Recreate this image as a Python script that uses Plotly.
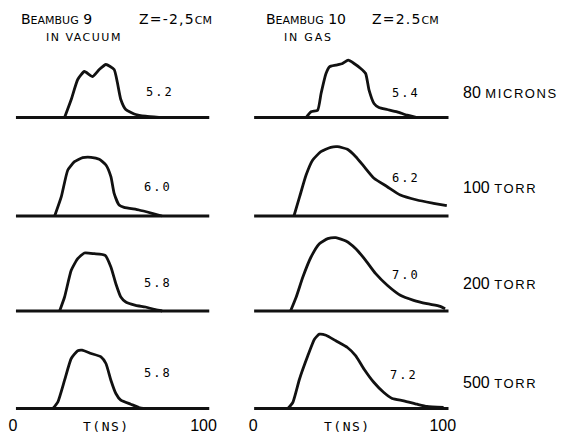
import plotly.graph_objects as go

# ---------------- data (time in ns, signal in arbitrary units) ----------------
tick_vals = [0, 100]
tick_text = ["0", "100"]

# Left column: Beambug 9, Z=-2.5 cm, in vacuum
vac_80um_t = [27.1, 30.6, 34.0, 37.5, 41.8, 45.3, 48.8, 53.1, 54.8, 56.6, 59.2, 64.4, 69.6, 76.6]
vac_80um_v = [0, 18, 38, 46, 41, 48, 53, 48, 35, 18, 8, 3, 1.3, 0]

vac_100t_t = [21.9, 25.4, 28.8, 32.3, 36.6, 41.0, 45.3, 48.8, 51.4, 53.1, 55.7, 58.3, 66.1, 73.0, 78.2]
vac_100t_v = [0, 19.3, 46, 54.3, 58.3, 58.7, 56.7, 51, 39.3, 22.7, 11, 8.7, 6, 2.7, 0]

vac_200t_t = [24.5, 27.1, 30.6, 34.0, 37.5, 42.7, 48.4, 51.4, 54.0, 56.6, 59.2, 64.4, 69.6, 74.8, 78.3]
vac_200t_v = [0, 14, 40.7, 52.3, 58, 57.3, 55.7, 44, 27.3, 14, 9, 5.7, 4, 1.3, 0]

vac_500t_t = [21.0, 23.6, 27.1, 30.6, 34.0, 36.3, 41.0, 46.2, 48.8, 51.4, 54.0, 56.6, 61.8, 66.1, 69.6]
vac_500t_v = [0, 6.7, 28.3, 50, 57.7, 58.3, 55, 51.7, 45, 28.3, 15, 8.3, 4.3, 1, 0]

# Right column: Beambug 10, Z=2.5 cm, in gas
gas_80um_t = [27.9, 30.5, 34.0, 35.8, 38.4, 40.2, 43.6, 47.1, 50.1, 53.2, 56.7, 59.3, 61.1, 63.7,
              66.3, 70.7, 75.9, 81.2, 86.4]
gas_80um_v = [0, 5.7, 7.3, 24, 44, 50.7, 52.3, 54, 57.3, 54, 49, 44, 27.3, 14,
              10, 8, 5.7, 2.3, 0]

gas_100t_t = [21.5, 24.5, 27.9, 31.4, 35.7, 40.9, 44.5, 49.7, 54.1, 58.5, 63.7, 70.7, 77.6, 86.4, 95.1, 102.1]
gas_100t_v = [0, 19.3, 41, 56, 64.3, 68.7, 69.3, 66.7, 59.3, 49.3, 37.7, 29.3, 21, 16, 12.7, 10.3]

gas_200t_t = [19.7, 22.7, 26.2, 30.5, 34.9, 39.3, 43.6, 48.9, 54.1, 59.3, 64.6, 70.7, 77.6, 84.6,
              91.6, 98.6, 101.2]
gas_200t_v = [0, 14, 34, 54, 67.3, 72.3, 73.3, 70, 62.3, 50.7, 37.3, 25.7, 15.7, 10.7,
              7.3, 4.7, 2.3]

gas_500t_t = [18.3, 20.9, 24.4, 28.8, 32.3, 34.9, 38.4, 43.6, 49.7, 54.1, 58.5, 63.7, 68.9, 73.3,
              79.4, 86.4, 91.6, 100.4]
gas_500t_v = [0, 6, 29.3, 52.7, 69.3, 74.3, 73.3, 67.7, 61, 52.7, 39.3, 26, 16, 10,
              7.7, 4.3, 2, 1]

baseline_left = [1.6, 103]
baseline_right = [0.5, 103]
baseline_level = [0, 0]

width_values = ["5.2", "6.0", "5.8", "5.8"]      # vacuum
width_values_gas = ["5.4", "6.2", "7.0", "7.2"]  # gas
row_numbers = ["80", "100", "200", "500"]
row_units = ["MICRONS", "TORR", "TORR", "TORR"]

left_series = [(vac_80um_t, vac_80um_v), (vac_100t_t, vac_100t_v),
               (vac_200t_t, vac_200t_v), (vac_500t_t, vac_500t_v)]
right_series = [(gas_80um_t, gas_80um_v), (gas_100t_t, gas_100t_v),
                (gas_200t_t, gas_200t_v), (gas_500t_t, gas_500t_v)]

# ---------------- layout geometry (pixels) ----------------
W, H = 561, 437
row_base_px = [117.5, 216, 311, 408.5]
left_x_px = (3.4, 214.6)
right_x_px = (245.45, 455.55)
X_RANGE = [-5, 105]
Y_RANGE = [-5, 80]

fig = go.Figure()
LINE = dict(color="#111111", width=2.8)
BASE = dict(color="#111111", width=2.8)

layout = dict(width=W, height=H, margin=dict(l=0, r=0, t=0, b=0),
              paper_bgcolor="white", plot_bgcolor="white", showlegend=False)

idx = 0
annotations = []
for r in range(4):
    for c, (series, xpx, base_span) in enumerate(
            [(left_series, left_x_px, baseline_left), (right_series, right_x_px, baseline_right)]):
        idx += 1
        xa = "x" if idx == 1 else f"x{idx}"
        ya = "y" if idx == 1 else f"y{idx}"
        t, v = series[r]
        fig.add_trace(go.Scatter(x=base_span, y=baseline_level, mode="lines", line=BASE,
                                 xaxis=xa, yaxis=ya, hoverinfo="skip"))
        fig.add_trace(go.Scatter(x=t, y=v, mode="lines", line=dict(LINE, shape="spline", smoothing=0.5),
                                 xaxis=xa, yaxis=ya))
        B = row_base_px[r]
        xdom = [xpx[0] / W, xpx[1] / W]
        ydom = [1 - (B + 5) / H, 1 - (B - 80) / H]
        bottom = (r == 3)
        layout["xaxis" if idx == 1 else f"xaxis{idx}"] = dict(
            domain=xdom, range=X_RANGE, showgrid=False, zeroline=False, showline=False,
            ticks="", tickvals=tick_vals, ticktext=tick_text, showticklabels=bottom,
            tickfont=dict(family="Liberation Sans", size=16, color="black"),
            anchor=ya, fixedrange=True)
        layout["yaxis" if idx == 1 else f"yaxis{idx}"] = dict(
            domain=ydom, range=Y_RANGE, showgrid=False, zeroline=False, showline=False,
            showticklabels=False, ticks="", anchor=xa, fixedrange=True)


def P(px, py):
    return px / W, 1 - py / H


def add_text(text, px, py, size, family="DejaVu Sans", xanchor="center"):
    x, y = P(px, py)
    annotations.append(dict(text=text, x=x, y=y, xref="paper", yref="paper",
                            xanchor=xanchor, yanchor="middle", showarrow=False,
                            borderpad=0, borderwidth=0,
                            font=dict(family=family, size=size, color="black")))


SC = "<span style='font-size:11px'>{}</span>"
SP = "<span style='letter-spacing:{}px'>{}</span>"
# headers (centred on the reference text extents)
add_text("B" + SC.format("EAMBUG") + " 9", 57, 19, 14)
add_text(SP.format(1.2, "Z=-2,5") + SC.format("CM"), 177, 19, 14)
add_text(SP.format(1.5, "IN VACUUM"), 85, 37, 11)
add_text("B" + SC.format("EAMBUG") + " 10", 308, 19, 14)
add_text(SP.format(1.2, "Z=2.5") + SC.format("CM"), 408, 19, 14)
add_text(SP.format(1.8, "IN GAS"), 311, 37, 11)

# pulse-width values
MONO = "DejaVu Sans Mono"
left_val_pos = [(160, 92), (158, 187), (158, 283), (158, 373)]
right_val_pos = [(408, 93), (408, 178), (408, 275), (406, 375)]
for txt, (px, py) in zip(width_values, left_val_pos):
    add_text(SP.format(2, txt), px + 1, py, 12, family=MONO)
for txt, (px, py) in zip(width_values_gas, right_val_pos):
    add_text(SP.format(2, txt), px + 1, py, 12, family=MONO)

# row labels (centred)
row_centers_x = [514, 504, 504, 504]
for num, unit, cx, py in zip(row_numbers, row_units, row_centers_x, [92, 188, 283, 382]):
    add_text(num + " <span style='font-size:13px;letter-spacing:1.6px'>" + unit + "</span>",
             cx, py, 16, family="Liberation Sans")

# axis titles
add_text(SP.format(1.5, "T(NS)"), 107, 426, 13, family=MONO)
add_text(SP.format(1.5, "T(NS)"), 350, 426, 13, family=MONO)

layout["annotations"] = annotations
fig.update_layout(**layout)
fig.write_html("out.html", config={"displayModeBar": False},
               post_script="document.body.style.margin='0';document.body.style.overflow='hidden';")
